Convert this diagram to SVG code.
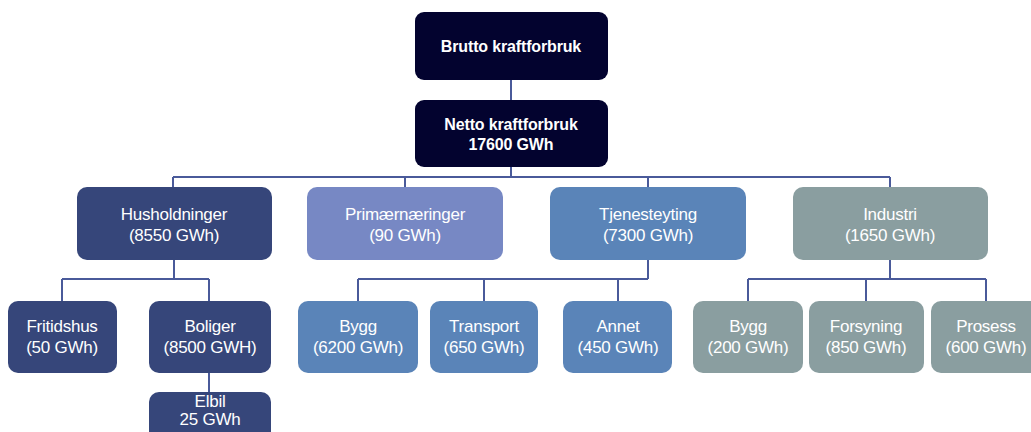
<svg xmlns="http://www.w3.org/2000/svg" width="1031" height="432" viewBox="0 0 1031 432">
<style>
.t{font-family:"Liberation Sans",Arial,sans-serif;font-size:17px;fill:#fff;text-anchor:middle;letter-spacing:-0.25px}
.b{font-weight:bold;font-size:16px;letter-spacing:-0.15px}
.top{fill:#03032f}
.hh{fill:#36467a}
.pn{fill:#7788c4}
.tj{fill:#5a84b8}
.in{fill:#8a9ea0}
.c{fill:none;stroke:#4a5a9a;stroke-width:2}
</style>
<rect width="1031" height="432" fill="#fff"/>
<g id="connectors">
<path class="c" d="M511 80V100M511 167V177M173 177H890M173 177V187M405 177V187M648 177V187M890 177V187"/>
<path class="c" d="M174 260V279M62 279H209M62 279V301M209 279V301M209 373V392"/>
<path class="c" d="M648 260V279M358 279H648M358 279V301M484 279V301M618 279V301"/>
<path class="c" d="M890 260V279M748 279H986M748 279V301M866 279V301M986 279V301"/>
</g>
<g id="brutto"><rect class="top" x="415" y="12" width="193" height="68" rx="9"/><text class="t b" x="511" y="52">Brutto kraftforbruk</text></g>
<g id="netto"><rect class="top" x="415" y="100" width="193" height="67" rx="9"/><text class="t b" x="511" y="130">Netto kraftforbruk</text><text class="t b" x="511" y="150">17600 GWh</text></g>
<g id="husholdninger"><rect class="hh" x="77" y="187" width="195" height="73" rx="10"/><text class="t" x="174" y="220">Husholdninger</text><text class="t" x="174" y="241">(8550 GWh)</text></g>
<g id="primaer"><rect class="pn" x="307" y="187" width="196" height="73" rx="10"/><text class="t" x="405" y="220">Primærnæringer</text><text class="t" x="405" y="241">(90 GWh)</text></g>
<g id="tjenesteyting"><rect class="tj" x="550" y="187" width="196" height="73" rx="10"/><text class="t" x="648" y="220">Tjenesteyting</text><text class="t" x="648" y="241">(7300 GWh)</text></g>
<g id="industri"><rect class="in" x="793" y="187" width="195" height="73" rx="10"/><text class="t" x="890" y="220">Industri</text><text class="t" x="890" y="241">(1650 GWh)</text></g>
<g id="fritidshus"><rect class="hh" x="8" y="301" width="109" height="72" rx="10"/><text class="t" x="62" y="332">Fritidshus</text><text class="t" x="62" y="353">(50 GWh)</text></g>
<g id="boliger"><rect class="hh" x="149" y="301" width="122" height="72" rx="10"/><text class="t" x="210" y="332">Boliger</text><text class="t" x="210" y="353">(8500 GWH)</text></g>
<g id="elbil"><rect class="hh" x="149" y="392" width="122" height="60" rx="10"/><text class="t" x="210" y="407">Elbil</text><text class="t" x="210" y="425">25 GWh</text></g>
<g id="bygg1"><rect class="tj" x="298" y="301" width="120" height="72" rx="10"/><text class="t" x="358" y="332">Bygg</text><text class="t" x="358" y="353">(6200 GWh)</text></g>
<g id="transport"><rect class="tj" x="430" y="301" width="108" height="72" rx="10"/><text class="t" x="484" y="332">Transport</text><text class="t" x="484" y="353">(650 GWh)</text></g>
<g id="annet"><rect class="tj" x="563" y="301" width="109" height="72" rx="10"/><text class="t" x="618" y="332">Annet</text><text class="t" x="618" y="353">(450 GWh)</text></g>
<g id="bygg2"><rect class="in" x="693" y="301" width="110" height="72" rx="10"/><text class="t" x="748" y="332">Bygg</text><text class="t" x="748" y="353">(200 GWh)</text></g>
<g id="forsyning"><rect class="in" x="809" y="301" width="115" height="72" rx="10"/><text class="t" x="866" y="332">Forsyning</text><text class="t" x="866" y="353">(850 GWh)</text></g>
<g id="prosess"><rect class="in" x="931" y="301" width="112" height="72" rx="10"/><text class="t" x="986" y="332">Prosess</text><text class="t" x="986" y="353">(600 GWh)</text></g>
</svg>
